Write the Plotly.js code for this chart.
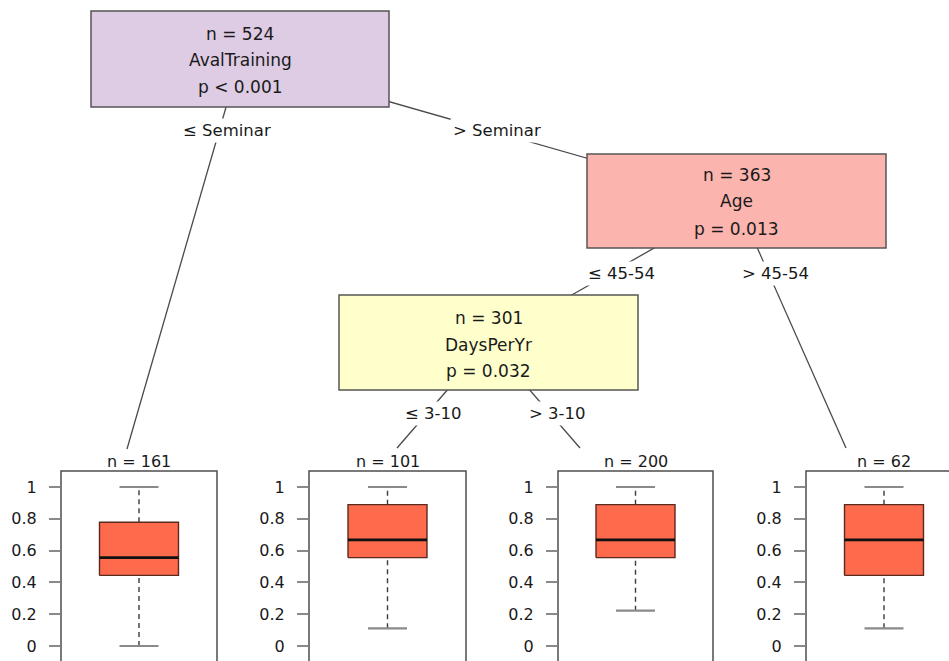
<!DOCTYPE html>
<html>
<head>
<meta charset="utf-8">
<script src="https://cdn.plot.ly/plotly-3.0.1.min.js"></script>
<style>html,body{margin:0;padding:0;background:#fff;}#chart{width:949px;height:661px;}</style>
</head>
<body>
<div id="chart"></div>
<script>
// ---------- data ----------
const nodeN = [524, 363, 301];
const nodeVar = ['AvalTraining', 'Age', 'DaysPerYr'];
const nodeP = ['p < 0.001', 'p = 0.013', 'p = 0.032'];
const edgeLabels = ['\u2264 Seminar', '> Seminar', '\u2264 45-54', '> 45-54', '\u2264 3-10', '> 3-10'];
const leafN = [161, 101, 200, 62];
const lowerWhisker = [0.000, 0.111, 0.222, 0.111];
const q1 = [0.444, 0.556, 0.556, 0.444];
const median = [0.556, 0.667, 0.667, 0.667];
const q3 = [0.778, 0.889, 0.889, 0.889];
const upperWhisker = [1, 1, 1, 1];
const yTickVals = [0, 0.2, 0.4, 0.6, 0.8, 1];
const yTickText = ['0', '0.2', '0.4', '0.6', '0.8', '1'];

// ---------- layout geometry (pixels) ----------
const W = 949, H = 661;
const px = x => x / W;
const py = y => 1 - y / H;
const FONT = 'DejaVu Sans';
const TXT = '#1a1a1a';
const nodeColors = ['#DECBE4', '#FBB4AE', '#FFFFCC'];
const nodeBox = [[91, 11, 389, 107], [587, 154, 886, 248], [339, 295, 638, 390]];
const nodeLineY = [[34, 60, 87], [175, 201, 229], [318, 345, 371]];
// edges: [parentIndex, endX, endY, labelX, labelY]
const edges = [
  [0, 127, 449, 227, 131],
  [0, 736.5, 201, 497, 131],
  [1, 488.5, 342.5, 621, 273],
  [1, 846, 448, 775, 273],
  [2, 397, 448, 433, 413],
  [2, 580, 448, 557, 413]
];
const leafFrame = [[61, 217], [309, 466], [558, 713], [806, 962]];
const frameTop = 471;
const y1px = 487, y0px = 646;
const unitX = 78;       // px per x unit in leaf panels
const boxHalf = 39.5 / unitX, capHalf = 19.5 / unitX;
const boxFill = '#FD6A4C';

const shapes = [], annotations = [], traces = [];
const layout = {
  width: W, height: H,
  margin: {l: 0, r: 0, t: 0, b: 0},
  paper_bgcolor: '#fff', plot_bgcolor: 'rgba(0,0,0,0)',
  showlegend: false,
  font: {family: FONT, color: TXT}
};

// edges (drawn first, under node boxes)
edges.forEach((e, i) => {
  const b = nodeBox[e[0]];
  const cx = (b[0] + b[2]) / 2, cy = (b[1] + b[3]) / 2;
  shapes.push({type: 'line', xref: 'paper', yref: 'paper',
    x0: px(cx), y0: py(cy), x1: px(e[1]), y1: py(e[2]),
    line: {color: '#4a4a4a', width: 1.3}});
  annotations.push({xref: 'paper', yref: 'paper', x: px(e[3]), y: py(e[4]),
    text: edgeLabels[i], showarrow: false, bgcolor: '#fff', borderpad: 2,
    font: {size: 16.5, family: FONT, color: TXT}, xanchor: 'center', yanchor: 'middle'});
});

// inner nodes
nodeBox.forEach((b, i) => {
  shapes.push({type: 'rect', xref: 'paper', yref: 'paper',
    x0: px(b[0]), y0: py(b[3]), x1: px(b[2]), y1: py(b[1]),
    fillcolor: nodeColors[i], line: {color: '#555', width: 1.5}});
  const cx = (b[0] + b[2]) / 2;
  const lines = ['n = ' + nodeN[i], nodeVar[i], nodeP[i]];
  lines.forEach((t, k) => {
    annotations.push({xref: 'paper', yref: 'paper', x: px(cx), y: py(nodeLineY[i][k]),
      text: t, showarrow: false, font: {size: 17, family: FONT, color: TXT},
      xanchor: 'center', yanchor: 'middle'});
  });
});

// leaf panels
const yUnit = y0px - y1px;
const yRange = [-(H - y0px) / yUnit, 1 + (y1px - frameTop) / yUnit];
leafN.forEach((n, i) => {
  const k = i + 2;
  const [L, R] = leafFrame[i];
  const c = (L + R) / 2;
  const Rv = Math.min(R, W);
  layout['xaxis' + k] = {domain: [px(L), px(Rv)], range: [(L - c) / unitX, (Rv - c) / unitX],
    visible: false, anchor: 'y' + k, fixedrange: true};
  layout['yaxis' + k] = {domain: [0, py(frameTop)], range: yRange, anchor: 'x' + k,
    showgrid: false, zeroline: false, showline: false,
    ticks: 'outside', ticklen: 11, tickwidth: 2, tickcolor: '#8a8a8a',
    tickvals: yTickVals, ticktext: yTickText, ticklabelstandoff: 9,
    tickfont: {size: 16, family: FONT, color: TXT}, fixedrange: true};
  // frame
  shapes.push({type: 'rect', xref: 'paper', yref: 'paper',
    x0: px(L), x1: px(R), y0: -0.05, y1: py(frameTop),
    line: {color: '#4d4d4d', width: 1.5}, fillcolor: 'rgba(0,0,0,0)'});
  // title
  annotations.push({xref: 'paper', yref: 'paper', x: px(c), y: py(461),
    text: 'n = ' + n, showarrow: false, font: {size: 16, family: FONT, color: TXT},
    xanchor: 'center', yanchor: 'middle'});
  const xa = 'x' + k, ya = 'y' + k;
  // whiskers (dashed)
  traces.push({type: 'scatter', mode: 'lines', xaxis: xa, yaxis: ya, hoverinfo: 'skip',
    x: [0, 0, null, 0, 0], y: [q3[i], upperWhisker[i], null, lowerWhisker[i], q1[i]],
    line: {color: '#3a3a3a', width: 1.4, dash: '5px,4px'}});
  // caps
  traces.push({type: 'scatter', mode: 'lines', xaxis: xa, yaxis: ya, hoverinfo: 'skip',
    x: [-capHalf, capHalf, null, -capHalf, capHalf],
    y: [upperWhisker[i], upperWhisker[i], null, lowerWhisker[i], lowerWhisker[i]],
    line: {color: '#8a8a8a', width: 2.2}});
  // box
  traces.push({type: 'scatter', mode: 'lines', xaxis: xa, yaxis: ya, hoverinfo: 'skip',
    x: [-boxHalf, boxHalf, boxHalf, -boxHalf, -boxHalf],
    y: [q1[i], q1[i], q3[i], q3[i], q1[i]],
    fill: 'toself', fillcolor: boxFill, line: {color: '#5a2a20', width: 1.4}});
  // median
  traces.push({type: 'scatter', mode: 'lines', xaxis: xa, yaxis: ya, hoverinfo: 'skip',
    x: [-boxHalf, boxHalf], y: [median[i], median[i]],
    line: {color: '#111', width: 2.8}});
});

// dummy main axes hidden
layout.xaxis = {visible: false, domain: [0, 0.001]};
layout.yaxis = {visible: false, domain: [0, 0.001]};
layout.shapes = shapes;
layout.annotations = annotations;

Plotly.newPlot('chart', traces, layout, {displayModeBar: false, staticPlot: true});
</script>
</body>
</html>
